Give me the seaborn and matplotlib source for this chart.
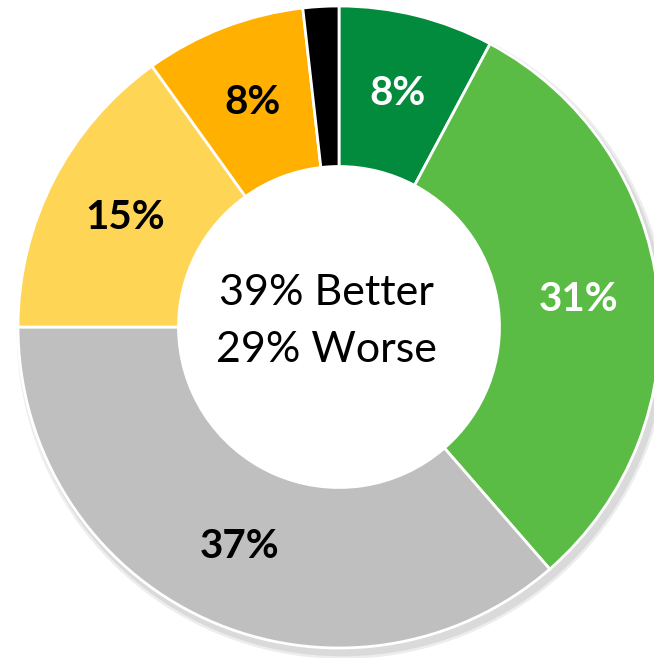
import matplotlib
matplotlib.use("Agg")
import matplotlib.pyplot as plt
import seaborn as sns
import numpy as np
from matplotlib.patches import Wedge

# Slice shares (clockwise from 12 o'clock)
categories = ["Much better", "Better", "Same", "Worse", "Much worse", "Don't know"]
shares = [7.8, 30.8, 36.4, 15.1, 8.1, 1.8]
labels = ["8%", "31%", "37%", "15%", "8%", ""]
label_colors = ["white", "white", "black", "black", "black", "white"]
colors = ["#038B3D", "#5BBC45", "#BFBFBF", "#FFD556", "#FFB000", "#000000"]
center_lines = ["39% Better", "29% Worse"]

sns.set_theme(style="white")
plt.rcParams["font.family"] = ["Lato", "DejaVu Sans"]

fig = plt.figure(figsize=(6.54, 6.58), dpi=100)
ax = fig.add_axes([0, 0, 1, 1])

# soft shadow behind the outer rim only
for r, a in [(1.016, 0.10), (1.008, 0.12)]:
    ax.add_patch(Wedge((0.012, -0.018), r, 0, 360, width=0.2,
                       color="#555555", alpha=a, zorder=0, lw=0))

wedges, _ = ax.pie(shares, colors=colors, startangle=90, counterclock=False,
                   radius=1.0, wedgeprops=dict(width=0.5, edgecolor="white", linewidth=2))

# percent labels in the middle of the ring
for w, lab, c in zip(wedges, labels, label_colors):
    ang = np.deg2rad((w.theta1 + w.theta2) / 2)
    r = 0.75
    ax.text(r * np.cos(ang), r * np.sin(ang), lab, ha="center", va="center",
            fontsize=29, fontweight="bold", color=c)

ax.text(-0.04, 0.106, center_lines[0], ha="center", va="center", fontsize=31, color="black")
ax.text(-0.04, -0.072, center_lines[1], ha="center", va="center", fontsize=31, color="black")

ax.set_xlim(-339 / 321, 315 / 321)
ax.set_ylim(-331 / 321, 327 / 321)
ax.set_aspect("auto")
ax.axis("off")

fig.savefig("out.png", dpi=100, facecolor="white")
